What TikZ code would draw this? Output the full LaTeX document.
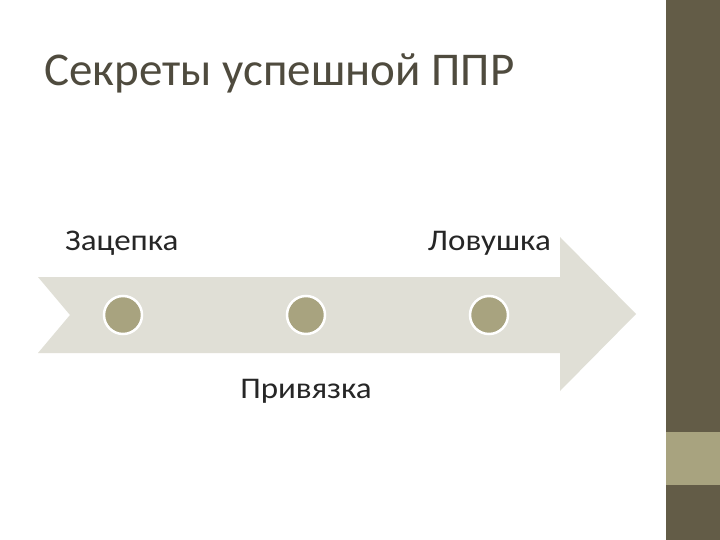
\documentclass[tikz,border=0pt]{standalone}
\usepackage{fontspec}
\setmainfont{Carlito}
\begin{document}
\begin{tikzpicture}[x=1pt,y=-1pt,
  dot/.style={circle,fill=olivec,draw=white,line width=2.5pt,minimum size=38pt,inner sep=0pt},
  lbl/.style={font=\fontsize{30}{36}\selectfont,text=black!85,inner sep=0pt}]
\definecolor{olivec}{HTML}{A8A37F}
\definecolor{darkbar}{HTML}{635C47}
\definecolor{arrowc}{HTML}{E0DFD6}
\definecolor{titlec}{HTML}{4F4B3E}
\useasboundingbox (0,0) rectangle (720,540);
\fill[white] (0,0) rectangle (720,540);
\fill[darkbar] (666,0) rectangle (720,540);
\fill[olivec] (666,432) rectangle (720,485);
\node[anchor=base west,inner sep=0pt,text=titlec,font=\fontsize{47}{54}\selectfont] (title) at (44,86) {Секреты успешной ППР};
\fill[arrowc] (38,277) -- (560,277) -- (560,237) -- (636,314) -- (560,391) -- (560,353) -- (38,353) -- (70,315) -- cycle;
\node[dot] (d1) at (123,315) {};
\node[dot] (d2) at (306,315) {};
\node[dot] (d3) at (489,315) {};
\node[lbl,anchor=base west,xscale=1.1] (l1) at (65,250) {Зацепка};
\node[lbl,anchor=base east,xscale=1.1] (l3) at (551,250) {Ловушка};
\node[lbl,anchor=base,xscale=1.1] (l2) at (306,398) {Привязка};
\end{tikzpicture}
\end{document}
